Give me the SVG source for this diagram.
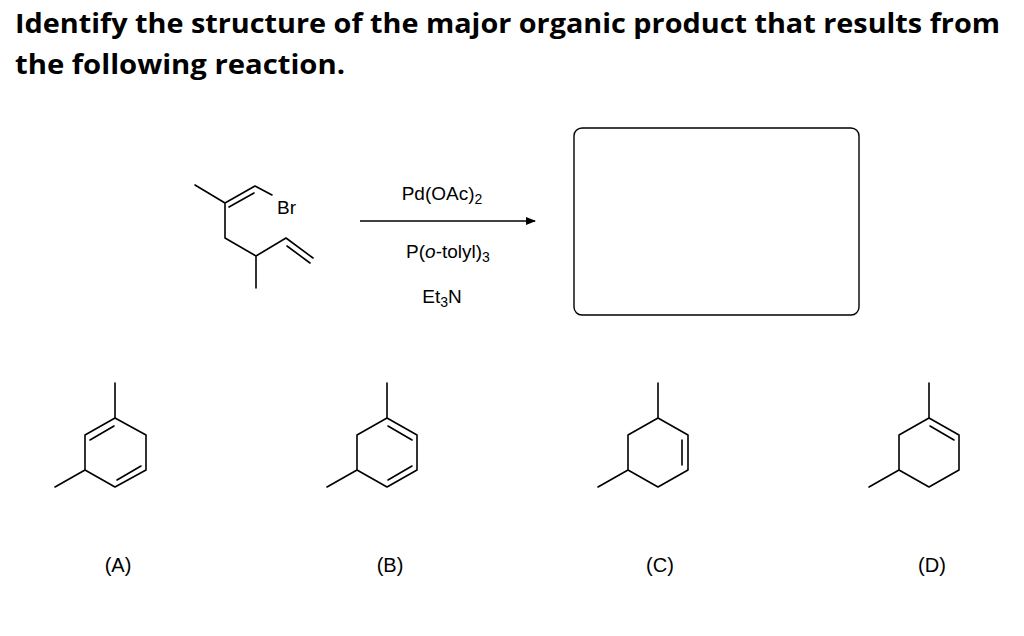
<svg xmlns="http://www.w3.org/2000/svg" width="1024" height="636" viewBox="0 0 1024 636">
<style>
.b{stroke:#000;stroke-width:1.6;fill:none;stroke-linecap:round;stroke-linejoin:round}
.t{font-family:"Liberation Sans",Arial,sans-serif;fill:#000}
.h{font-family:"Open Sans","Liberation Sans",sans-serif;font-weight:bold;font-size:26px;fill:#000}
</style>
<defs><marker id="ah" markerWidth="10" markerHeight="8" refX="9" refY="4" orient="auto" markerUnits="userSpaceOnUse"><path d="M0,0 L10,4 L0,8 Z" fill="#000"/></marker></defs>
<rect width="1024" height="636" fill="#fff"/>
<text class="h" x="15" y="33" textLength="985" lengthAdjust="spacingAndGlyphs">Identify the structure of the major organic product that results from</text>
<text class="h" x="15" y="74" textLength="330" lengthAdjust="spacingAndGlyphs">the following reaction.</text>
<g id="reactant">
<path class="b" d="M195,185 L225,203 L255,186 L272,195 M229,207 L254,193 M225,203 L225,238 L256,256 L256,288 M256,256 L286,238 L313,258 M287,246 L310,263"/>
<text class="t" x="277" y="214" font-size="19">Br</text>
</g>
<g id="connectors"><line x1="360" y1="221" x2="535" y2="221" stroke="#000" stroke-width="1.4" marker-end="url(#ah)"/></g>
<g id="reagents" class="t" font-size="19" text-anchor="middle">
<text x="442" y="200">Pd(OAc)<tspan font-size="14" dy="4">2</tspan></text>
<text x="448" y="258">P(<tspan font-style="italic">o</tspan>-tolyl)<tspan font-size="14" dy="4">3</tspan></text>
<text x="442" y="303">Et<tspan font-size="14" dy="4">3</tspan><tspan dy="-4">N</tspan></text>
</g>
<g id="answerbox"><rect x="574" y="128" width="285" height="187" rx="8" fill="none" stroke="#000" stroke-width="1.4"/></g>
<g id="A"><path class="b" d="M115,418 L146,435 L146,470 L115,487 L85,470 L85,435 Z M115,383 L115,418 M85,470 L55,487 M90,440 L114,426 M117,480 L141,466"/><text class="t" x="118" y="572" font-size="20" text-anchor="middle">(A)</text></g>
<g id="B"><path class="b" d="M387,418 L417,435 L417,470 L387,487 L357,470 L357,435 Z M387,383 L387,418 M357,470 L327,487 M388,426 L412,440 M412,466 L388,480"/><text class="t" x="390" y="572" font-size="20" text-anchor="middle">(B)</text></g>
<g id="C"><path class="b" d="M658,418 L688,435 L688,470 L658,487 L628,470 L628,435 Z M658,383 L658,418 M628,470 L598,487 M682,440 L682,465"/><text class="t" x="660" y="572" font-size="20" text-anchor="middle">(C)</text></g>
<g id="D"><path class="b" d="M929,418 L959,435 L959,470 L929,487 L899,470 L899,435 Z M929,383 L929,418 M899,470 L869,487 M930,426 L954,440"/><text class="t" x="932" y="572" font-size="20" text-anchor="middle">(D)</text></g>
</svg>
